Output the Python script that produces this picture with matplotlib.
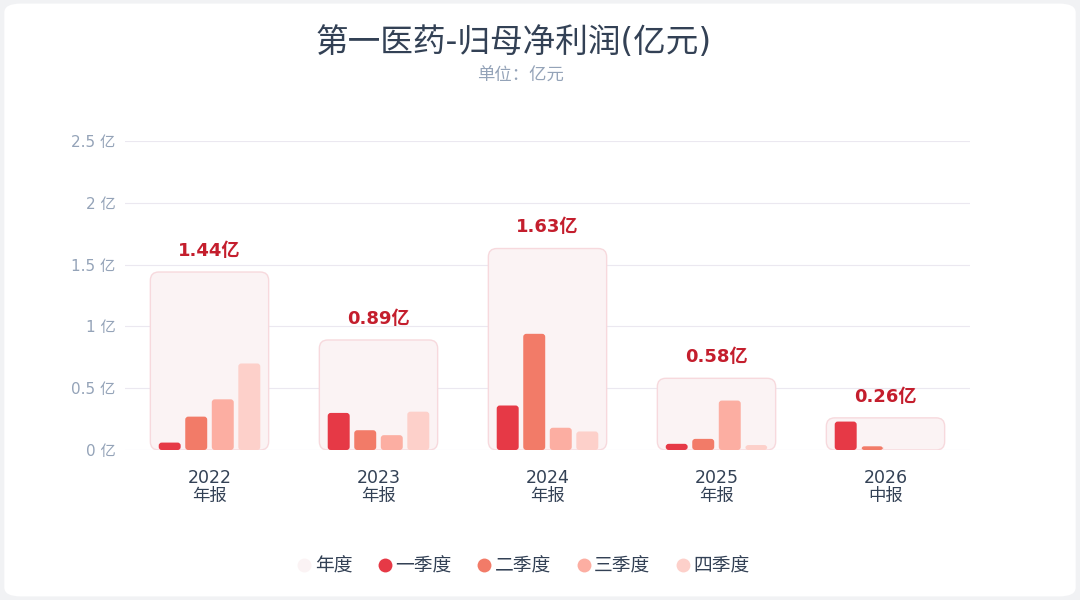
import matplotlib.pyplot as plt
from matplotlib.patches import FancyBboxPatch
from matplotlib.lines import Line2D
import numpy as np

# latin glyphs from DejaVu, CJK falls through to Noto
plt.rcParams['font.family'] = ['DejaVu Sans', 'Noto Sans CJK SC']

# data (亿元)
years = ['2022', '2023', '2024', '2025', '2026']
periods = ['年报', '年报', '年报', '年报', '中报']
totals = [1.44, 0.89, 1.63, 0.58, 0.26]
q1 = [0.06, 0.30, 0.36, 0.05, 0.23]
q2 = [0.27, 0.16, 0.94, 0.09, 0.03]
q3 = [0.41, 0.12, 0.18, 0.40, 0.0]
q4 = [0.70, 0.31, 0.15, 0.04, 0.0]
y_ticks = [0, 0.5, 1, 1.5, 2, 2.5]
y_labels = ['0 亿', '0.5 亿', '1 亿', '1.5 亿', '2 亿', '2.5 亿']

q_names = ['一季度', '二季度', '三季度', '四季度']
q_colors = ['#e63946', '#f27b68', '#fcaea2', '#fdd0ca']
year_color = '#fbf3f4'

fig = plt.figure(figsize=(10.8, 6), dpi=100)
fig.patch.set_facecolor('#f1f2f4')
card = FancyBboxPatch((0.004, 0.006), 0.992, 0.988, boxstyle='round,pad=0,rounding_size=0.015',
                      transform=fig.transFigure, facecolor='white', edgecolor='none', zorder=-10)
fig.patches.append(card)

ax = fig.add_axes([125 / 1080, 150 / 600, 845 / 1080, 309 / 600])
ax.set_zorder(2)
ax.set_facecolor('none')
ax.set_xlim(-0.5, 4.5)
ax.set_ylim(0, 2.5)

asp = 2.5 / 309 * 169  # y units per x unit in pixels
x = np.arange(len(years))
box_w = 0.70
for i, t in enumerate(totals):
    box = FancyBboxPatch((x[i] - box_w / 2, 0), box_w, t,
                         boxstyle='round,pad=0,rounding_size=0.05',
                         mutation_aspect=asp,
                         facecolor=year_color, edgecolor='#f7d9dd', linewidth=1, zorder=1)
    ax.add_patch(box)
    ax.text(x[i], t + 0.1, f'{t:.2f}亿', ha='center', va='bottom', fontsize=13,
            fontweight='bold', color='#c41e2d', zorder=5)

bar_w = 0.13
step = 0.157
for k, vals in enumerate([q1, q2, q3, q4]):
    offs = (k - 1.5) * step
    for i, v in enumerate(vals):
        if v <= 0:
            continue
        bar = FancyBboxPatch((x[i] + offs - bar_w / 2, 0), bar_w, v,
                             boxstyle='round,pad=0,rounding_size=0.018',
                             mutation_aspect=asp,
                             facecolor=q_colors[k], edgecolor='none', zorder=3)
        ax.add_patch(bar)

ax.set_yticks(y_ticks)
ax.set_yticklabels(y_labels, fontsize=11, color='#94a3b8')
ax.set_xticks(x)
ax.set_xticklabels([f'{y}\n{p}' for y, p in zip(years, periods)], fontsize=12.5,
                   color='#334155', linespacing=0.95)
ax.tick_params(axis='both', length=0)
ax.tick_params(axis='y', pad=7)
ax.tick_params(axis='x', pad=14)
ax.grid(axis='y', color='#ebe8f0', linewidth=0.8, zorder=0)
ax.set_axisbelow(True)
for s in ax.spines.values():
    s.set_visible(False)

fig.text(514 / 1080, 1 - 42 / 600, '第一医药-归母净利润(亿元)', ha='center', va='center',
         fontsize=23.5, color='#334155')
fig.text(520 / 1080, 1 - 76 / 600, '单位：亿元', ha='center', va='center', fontsize=12.5,
         color='#94a3b8')

handles = [Line2D([], [], marker='o', linestyle='none', markersize=10,
                  markerfacecolor=year_color, markeredgecolor='none', label='年度')]
for n, c in zip(q_names, q_colors):
    handles.append(Line2D([], [], marker='o', linestyle='none', markersize=10,
                          markerfacecolor=c, markeredgecolor='none', label=n))
leg = fig.legend(handles=handles, loc='center', bbox_to_anchor=(520 / 1080, 1 - 566 / 600), ncol=5,
                 frameon=False, fontsize=13.5, handletextpad=-0.2, columnspacing=1.0,
                 handlelength=1.5)
for t in leg.get_texts():
    t.set_color('#334155')

fig.savefig('out.png', dpi=100, facecolor=fig.get_facecolor())
